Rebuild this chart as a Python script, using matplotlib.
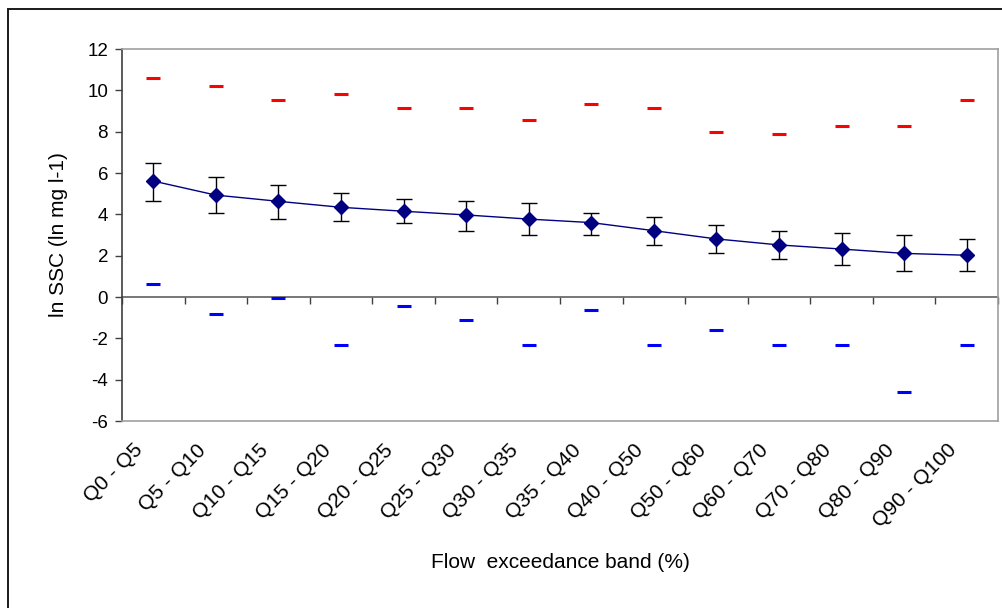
import matplotlib
matplotlib.use("Agg")
import matplotlib.pyplot as plt
import matplotlib.transforms as mtransforms
from matplotlib.patches import Rectangle
import numpy as np

plt.rcParams["font.family"] = ["Liberation Sans", "DejaVu Sans"]
plt.rcParams["axes.unicode_minus"] = False

# Flow exceedance bands and ln SSC statistics per band
bands = ["Q0 - Q5", "Q5 - Q10", "Q10 - Q15", "Q15 - Q20", "Q20 - Q25",
         "Q25 - Q30", "Q30 - Q35", "Q35 - Q40", "Q40 - Q50", "Q50 - Q60",
         "Q60 - Q70", "Q70 - Q80", "Q80 - Q90", "Q90 - Q100"]
mean_ssc = [5.61, 4.93, 4.63, 4.34, 4.15, 3.97, 3.77, 3.60, 3.21, 2.81,
            2.52, 2.32, 2.11, 2.02]
err_upper = [6.47, 5.79, 5.43, 5.02, 4.73, 4.63, 4.55, 4.05, 3.87, 3.48,
             3.19, 3.08, 2.98, 2.79]
err_lower = [4.63, 4.05, 3.77, 3.68, 3.58, 3.19, 3.00, 3.00, 2.50, 2.11,
             1.84, 1.55, 1.26, 1.26]
max_ssc = [10.60, 10.21, 9.55, 9.81, 9.14, 9.14, 8.56, 9.34, 9.14, 7.98,
           7.87, 8.26, 8.26, 9.53]
min_ssc = [0.61, -0.82, -0.05, -2.30, -0.44, -1.13, -2.30, -0.64, -2.30,
           -1.61, -2.30, -2.30, -4.60, -2.30]

x = np.arange(len(bands)) + 0.5
mean_arr = np.array(mean_ssc)
yerr = [mean_arr - np.array(err_lower), np.array(err_upper) - mean_arr]

fig = plt.figure(figsize=(10.03, 6.08), dpi=100)

# chart border (left and top edges visible, rest runs off the canvas)
fig.patches.append(Rectangle((8 / 1003, -0.1), 1.2, 1.1 - 9 / 608,
                             transform=fig.transFigure, fill=False,
                             edgecolor="#1a1a1a", linewidth=1.4))

ax = fig.add_axes([122 / 1003, 1 - 421 / 608, 876 / 1003, 372 / 608])

ax.plot(x, max_ssc, linestyle="none", marker="_", markersize=9.6,
        markeredgewidth=2.2, color="#ff0000", zorder=3)
ax.plot(x, min_ssc, linestyle="none", marker="_", markersize=9.6,
        markeredgewidth=2.2, color="#0000ff", zorder=3)
ax.errorbar(x, mean_ssc, yerr=yerr, fmt="none", ecolor="black",
            elinewidth=1, capsize=5.5, capthick=1, zorder=4)
ax.plot(x, mean_ssc, color="#000080", linewidth=1, marker="D",
        markersize=7, markerfacecolor="#000080", markeredgecolor="#000080",
        zorder=5)

ax.set_xlim(0, len(bands))
ax.set_ylim(-6, 12)
ax.set_yticks(np.arange(-6, 13, 2))
ax.tick_params(axis="y", direction="out", length=5, width=1,
               color="#404040", labelsize=13.5, pad=5)

ax.set_xticks(x)
ax.set_xticklabels(bands, rotation=45, ha="right", va="top",
                   rotation_mode="anchor", fontsize=15)
ax.tick_params(axis="x", length=0, pad=14)
shift = mtransforms.ScaledTranslation(-20 / 100, 0, fig.dpi_scale_trans)
for lbl in ax.get_xticklabels():
    lbl.set_transform(lbl.get_transform() + shift)

for side in ["top", "right", "bottom"]:
    ax.spines[side].set_color("#a0a0a0")
    ax.spines[side].set_linewidth(1.2)
ax.spines["left"].set_color("#404040")
ax.spines["left"].set_linewidth(1.2)

# category axis crossing at y = 0
zero_axis = ax.secondary_xaxis(6 / 18)
zero_axis.set_xticks(np.arange(0, len(bands) + 1))
zero_axis.set_xticklabels([])
zero_axis.tick_params(direction="out", length=5, width=1, color="#404040")
zero_axis.spines["bottom"].set_color("#606060")
zero_axis.spines["bottom"].set_linewidth(1.2)

ax.set_ylabel("ln SSC (ln mg l-1)", fontsize=15, labelpad=14)
fig.text(560 / 1003, 1 - 563 / 608, "Flow  exceedance band (%)",
         fontsize=15, ha="center", va="center")

fig.savefig("out.png", dpi=100)
